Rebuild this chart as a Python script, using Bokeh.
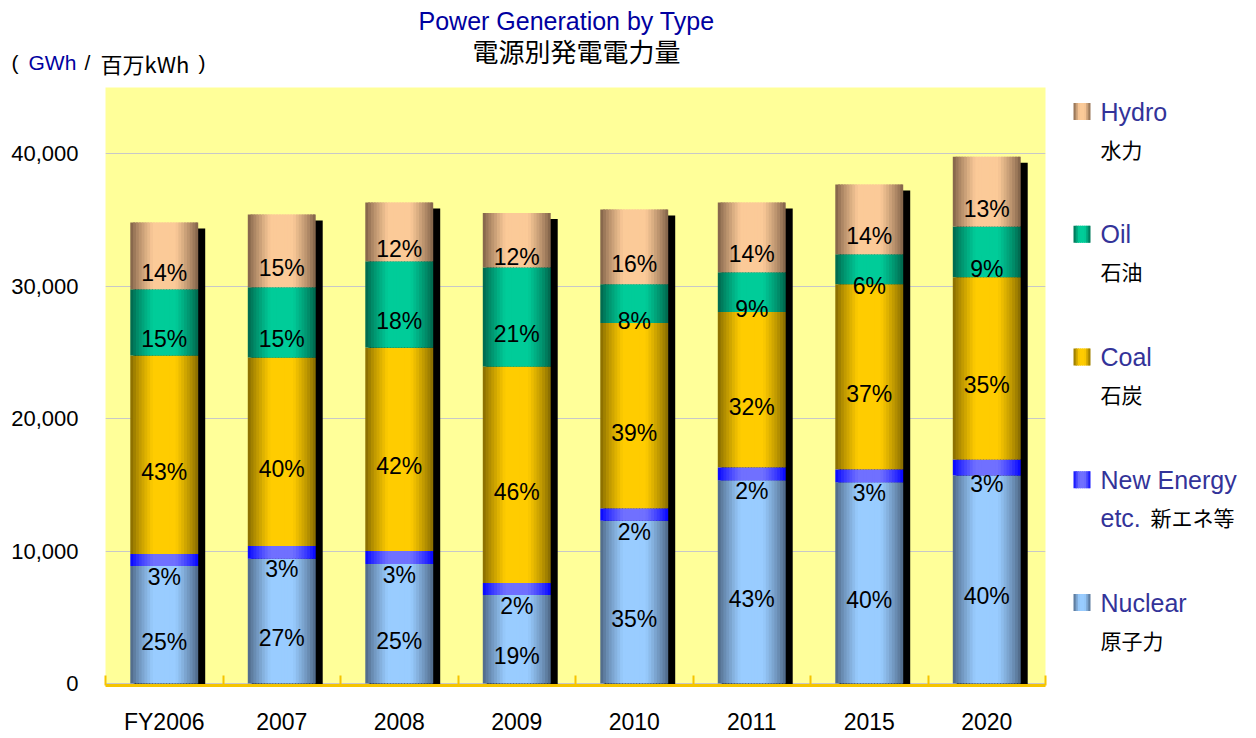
import numpy as np
from bokeh.plotting import figure
from bokeh.models import Range1d, FixedTicker, ColumnDataSource, NumeralTickFormatter
from bokeh.layouts import row, column
from bokeh.embed import file_html
from bokeh.resources import INLINE
from bokeh.core.properties import value

# ---------------- data (GWh) ----------------
categories = ["FY2006", "2007", "2008", "2009", "2010", "2011", "2015", "2020"]
nuclear    = [8870, 9420, 9020, 6690, 12280, 15340, 15190, 15710]
new_energy = [900, 960, 980, 900, 950, 980, 980, 1210]
coal       = [14990, 14230, 15360, 16340, 13990, 11730, 13980, 13760]
oil        = [5010, 5310, 6520, 7490, 2930, 3000, 2260, 3830]
hydro      = [5040, 5490, 4440, 4100, 5640, 5270, 5260, 5260]

pct_nuclear = [25, 27, 25, 19, 35, 43, 40, 40]
pct_new     = [3, 3, 3, 2, 2, 2, 3, 3]
pct_coal    = [43, 40, 42, 46, 39, 32, 37, 35]
pct_oil     = [15, 15, 18, 21, 8, 9, 6, 9]
pct_hydro   = [14, 15, 12, 12, 16, 14, 14, 13]

legend_en1 = ["Hydro", "Oil", "Coal", "New Energy", "Nuclear"]
legend_en2 = ["", "", "", "etc.", ""]
legend_ja  = ["水力", "石油", "石炭", "新エネ等", "原子力"]

y_ticks = [0, 10000, 20000, 30000, 40000]
title_en = "Power Generation by Type"
title_ja = "電源別発電電力量"
unit_parts = ["(", "GWh", "/", "百万kWh", ")"]

# ---------------- styling ----------------
COLORS = {  # (edge dark, centre light)
    "Nuclear":    ((0x4a, 0x62, 0x80), (0x99, 0xcc, 0xff)),
    "New Energy": ((0x00, 0x00, 0xff), (0x70, 0x70, 0xff)),
    "Coal":       ((0x80, 0x66, 0x00), (0xff, 0xcc, 0x00)),
    "Oil":        ((0x00, 0x60, 0x48), (0x00, 0xcc, 0x99)),
    "Hydro":      ((0x7a, 0x5c, 0x44), (0xfb, 0xca, 0x98)),
}
LATIN = "Liberation Sans"
CJK = "Noto Sans CJK JP"
BLUE_T = "#0000a0"
BLUE_L = "#333399"


def shade(dark, light, t):
    d = abs(t - 0.5) / 0.5
    f = max(0.0, min(1.0, (1 - d) * 1.5)) ** 0.8
    c = [int(round(dk + (lt - dk) * f)) for dk, lt in zip(dark, light)]
    return "#%02x%02x%02x" % tuple(c)


W, HTOT = 1256, 738
HEAD_H = 80
FRAME_W, FRAME_H = 940, 598
LEFT, TOP = 105, 7
PH = HTOT - HEAD_H
BOTTOM = PH - TOP - FRAME_H
MAIN_W = LEFT + FRAME_W + 8
LEG_W = W - MAIN_W
Y_START, Y_END = -150, 45000
n = len(categories)
ppx = (Y_END - Y_START) / FRAME_H       # data units per pixel (y)
cpx = n / FRAME_W                       # data units per pixel (x)
BW = 0.578                              # bar width (category units)

# ---------------- header ----------------
head = figure(width=W, height=HEAD_H, x_range=Range1d(0, W), y_range=Range1d(HEAD_H, 0),
              output_backend="svg", toolbar_location=None, min_border=0,
              x_axis_location=None, y_axis_location=None)
head.grid.visible = False
head.outline_line_color = None
head.background_fill_color = "white"
head.border_fill_color = "white"
head.text(x=[566], y=[20], text=[title_en], text_align="center", text_baseline="middle",
          text_font=value(LATIN), text_font_size="25px", text_color=BLUE_T)
head.text(x=[576], y=[50], text=[title_ja], text_align="center", text_baseline="middle",
          text_font=value(CJK), text_font_size="26px", text_color="black")
unit_x = [11, 28, 84, 100, 198]
unit_col = ["black", BLUE_T, "black", "black", "black"]
unit_font = [LATIN, LATIN, LATIN, CJK, LATIN]
unit_size = ["21px", "21px", "21px", "22px", "21px"]
for ux, ut, uc, uf, us in zip(unit_x, unit_parts, unit_col, unit_font, unit_size):
    head.text(x=[ux], y=[62], text=[ut], text_align="left", text_baseline="middle",
              text_font=value(uf), text_font_size=us, text_color=uc)

# ---------------- main chart ----------------
p = figure(width=MAIN_W, height=PH, x_range=Range1d(0, n), y_range=Range1d(Y_START, Y_END),
           output_backend="svg", toolbar_location=None,
           min_border_left=LEFT, min_border_top=TOP, min_border_right=8,
           min_border_bottom=BOTTOM)
p.background_fill_color = "#ffff99"
p.border_fill_color = "white"
p.outline_line_color = None

xs = np.arange(n) + 0.5
stack_order = [("Nuclear", nuclear, pct_nuclear), ("New Energy", new_energy, pct_new),
               ("Coal", coal, pct_coal), ("Oil", oil, pct_oil), ("Hydro", hydro, pct_hydro)]
totals = np.sum([np.array(v, float) for _, v, _ in stack_order], axis=0)

# shadows
sh_left = xs - BW / 2 + 4 * cpx
sh_right = xs + BW / 2 + 7 * cpx
p.quad(left=sh_left, right=sh_right, top=totals - 6 * ppx, bottom=Y_START,
       fill_color="black", line_color=None)

# gradient bars built from narrow overlapping strips
N = 24
step = BW / N
strips = dict(left=[], right=[], bottom=[], top=[], color=[])
labels = dict(x=[], y=[], text=[])
base = np.zeros(n)
for name, vals, pcts in stack_order:
    vals = np.array(vals, float)
    top = base + vals
    dark, light = COLORS[name]
    for j in range(N):
        col = shade(dark, light, (j + 0.5) / N)
        for i in range(n):
            l = xs[i] - BW / 2 + j * step
            strips["left"].append(l)
            strips["right"].append(min(l + step * 1.7, xs[i] + BW / 2))
            strips["bottom"].append(base[i])
            strips["top"].append(top[i])
            strips["color"].append(col)
    for i in range(n):
        labels["x"].append(xs[i])
        labels["y"].append((base[i] + top[i]) / 2 - 17 * ppx)
        labels["text"].append(f"{pcts[i]}%")
    base = top

p.quad(left="left", right="right", bottom="bottom", top="top", fill_color="color",
       line_color=None, source=ColumnDataSource(strips))
p.text(x="x", y="y", text="text", source=ColumnDataSource(labels), text_align="center",
       text_baseline="middle", text_font=value(LATIN), text_font_size="23px", text_color="black")

# axes
p.xgrid.visible = False
p.ygrid.ticker = FixedTicker(ticks=y_ticks)
p.ygrid.grid_line_color = "#c8c8c8"
p.yaxis.ticker = FixedTicker(ticks=y_ticks)
p.yaxis.formatter = NumeralTickFormatter(format="0,0")
p.yaxis.axis_line_color = None
p.yaxis.major_tick_line_color = None
p.yaxis.minor_tick_line_color = None
p.yaxis.major_tick_out = 0
p.yaxis.major_label_standoff = 27
p.yaxis.major_label_text_font = LATIN
p.yaxis.major_label_text_font_size = "22px"
p.yaxis.major_label_text_color = "black"

p.xaxis.ticker = FixedTicker(ticks=list(xs), minor_ticks=list(range(n + 1)))
p.xaxis.major_label_overrides = {float(x): c for x, c in zip(xs, categories)}
p.xaxis.axis_line_color = "#f5c400"
p.xaxis.axis_line_width = 3
p.xaxis.major_tick_line_color = None
p.xaxis.major_tick_out = 0
p.xaxis.minor_tick_line_color = "#f5c400"
p.xaxis.minor_tick_line_width = 2
p.xaxis.minor_tick_in = 10
p.xaxis.minor_tick_out = 0
p.xaxis.major_label_standoff = 23
p.xaxis.major_label_text_font = LATIN
p.xaxis.major_label_text_font_size = "23px"
p.xaxis.major_label_text_color = "black"

# ---------------- legend ----------------
FT = HEAD_H + TOP                  # frame top in page pixels
FB = FT + FRAME_H                  # frame bottom in page pixels
leg = figure(width=LEG_W, height=PH, x_range=Range1d(MAIN_W, W), y_range=Range1d(FB, FT),
             output_backend="svg", toolbar_location=None,
             min_border_left=0, min_border_right=0, min_border_top=TOP, min_border_bottom=BOTTOM,
             x_axis_location=None, y_axis_location=None)
leg.grid.visible = False
leg.outline_line_color = None
leg.background_fill_color = "white"
leg.border_fill_color = "white"

order = ["Hydro", "Oil", "Coal", "New Energy", "Nuclear"]
sq = dict(left=[], right=[], top=[], bottom=[], color=[])
t1 = dict(x=[], y=[], text=[])
t2 = dict(x=[], y=[], text=[])
tj = dict(x=[], y=[], text=[])
NS = 8
SQ_L, SQ = 1073, 17
TX = 1100
for k, name in enumerate(order):
    yc = 111 + k * 122.75
    dark, light = COLORS[name]
    for j in range(NS):
        sq["left"].append(SQ_L + j * SQ / NS)
        sq["right"].append(min(SQ_L + (j + 1.6) * SQ / NS, SQ_L + SQ))
        sq["top"].append(yc - SQ / 2)
        sq["bottom"].append(yc + SQ / 2)
        sq["color"].append(shade(dark, light, (j + 0.5) / NS))
    t1["x"].append(TX); t1["y"].append(yc); t1["text"].append(legend_en1[k])
    if legend_en2[k]:
        t2["x"].append(TX); t2["y"].append(yc + 38); t2["text"].append(legend_en2[k])
        tj["x"].append(TX + 50)
    else:
        tj["x"].append(TX)
    tj["y"].append(yc + 37); tj["text"].append(legend_ja[k])

leg.quad(left="left", right="right", top="top", bottom="bottom", fill_color="color",
         line_color=None, source=ColumnDataSource(sq))
for src, col, font, size in [(t1, BLUE_L, LATIN, "25px"), (t2, BLUE_L, LATIN, "25px"),
                             (tj, "black", CJK, "21px")]:
    leg.text(x="x", y="y", text="text", source=ColumnDataSource(src), text_baseline="middle",
             text_align="left", text_font=value(font), text_font_size=size, text_color=col)

layout = column(head, row(p, leg))
open("out.html", "w").write(file_html(layout, INLINE))
